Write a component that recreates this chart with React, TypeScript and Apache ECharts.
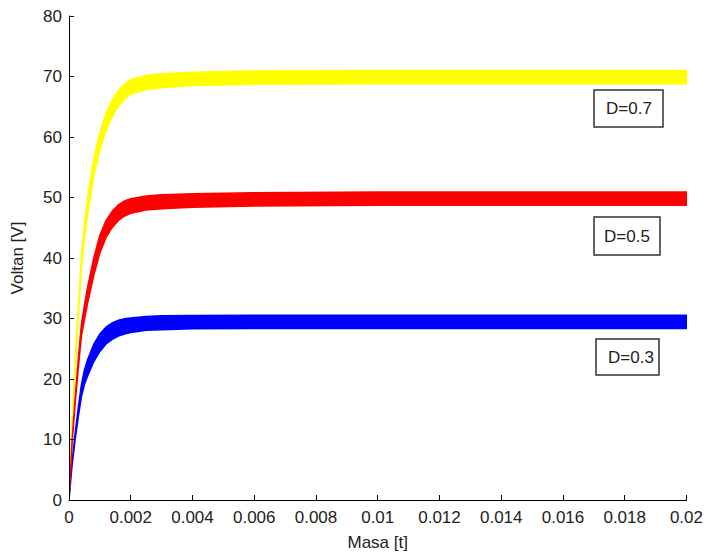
import React, { useEffect, useRef } from "react";
import * as echarts from "echarts";

// time samples [s]
const T = [0, 0.0001, 0.0002, 0.0003, 0.0004, 0.0005, 0.0006, 0.0008, 0.001, 0.0012, 0.0014, 0.0016, 0.0018, 0.002, 0.0025, 0.003, 0.004, 0.006, 0.01, 0.02];

// mean output voltage for each duty cycle [V]
const V07 = [0, 12.5, 23, 31, 39, 44.5, 48.5, 55, 59.3, 62.5, 64.8, 66.4, 67.5, 68.3, 69.0, 69.3, 69.6, 69.8, 69.9, 69.9];
const V05 = [0, 9.5, 16.5, 22.5, 28, 31, 33.8, 38.5, 42.3, 44.8, 46.4, 47.5, 48.2, 48.6, 49.1, 49.3, 49.5, 49.7, 49.8, 49.8];
const V03 = [0, 6, 10.5, 14.5, 18, 20.3, 21.8, 24.3, 26.0, 27.2, 27.9, 28.4, 28.7, 28.9, 29.2, 29.3, 29.4, 29.45, 29.45, 29.45];

// peak-to-peak ripple [V]
const RIPPLE = [0, 0.5, 1, 1.5, 2, 2.4, 2.7, 2.9, 2.9, 2.8, 2.7, 2.6, 2.5, 2.4, 2.3, 2.3, 2.2, 2.2, 2.2, 2.2];

const LABELS = ["D=0.7", "D=0.5", "D=0.3"];
const X_TICKS = ["0", "0.002", "0.004", "0.006", "0.008", "0.01", "0.012", "0.014", "0.016", "0.018", "0.02"];

const FONT = "Liberation Sans, Arial, sans-serif";
const TXT = "#222";

function bandSeries(values: number[], color: string) {
  const upper = values.map((v, i) => v + RIPPLE[i] / 2);
  const lower = values.map((v, i) => Math.max(0, v - RIPPLE[i] / 2));
  return {
    type: "custom",
    silent: true,
    clip: true,
    data: T.map((t, i) => [t, values[i]]),
    encode: { x: 0, y: 1 },
    renderItem: (params: any, api: any) => {
      if (params.dataIndex !== 0) return null;
      const pts: number[][] = [];
      for (let i = 0; i < T.length; i++) pts.push(api.coord([T[i], upper[i]]));
      for (let i = T.length - 1; i >= 0; i--) pts.push(api.coord([T[i], lower[i]]));
      return {
        type: "polygon",
        shape: { points: pts },
        style: { fill: color, stroke: color, lineWidth: 1.5 },
      };
    },
  };
}

function box(label: string, x: number, y: number, w: number, h: number, tx: number) {
  return {
    type: "group",
    x,
    y,
    children: [
      { type: "rect", shape: { x: 0, y: 0, width: w, height: h }, style: { fill: "#fff", stroke: "#333", lineWidth: 1.5 } },
      {
        type: "text",
        x: tx,
        y: h / 2,
        style: { text: label, fill: TXT, font: `17px ${FONT}`, textAlign: "center", textVerticalAlign: "middle" },
      },
    ],
  };
}

export default function App() {
  const ref = useRef<HTMLDivElement>(null);
  useEffect(() => {
    if (!ref.current) return;
    const chart = echarts.init(ref.current, null, { renderer: "svg" });
    chart.setOption({
      animation: false,
      backgroundColor: "#fff",
      grid: { left: 69, right: 19, top: 16, bottom: 54, containLabel: false },
      xAxis: {
        type: "value",
        min: 0,
        max: 0.02,
        interval: 0.002,
        name: "Masa [t]",
        nameLocation: "middle",
        nameGap: 34,
        nameTextStyle: { color: TXT, fontSize: 17, fontFamily: FONT },
        axisLine: { show: true, lineStyle: { color: "#000", width: 1 } },
        axisTick: { show: true, inside: true, length: 5, lineStyle: { color: "#000" } },
        splitLine: { show: false },
        axisLabel: {
          color: TXT,
          fontSize: 17,
          fontFamily: FONT,
          margin: 9,
          showMaxLabel: true,
          hideOverlap: false,
          formatter: (v: number) => X_TICKS[Math.round(v / 0.002)] ?? String(v),
        },
        z: 10,
      },
      yAxis: {
        type: "value",
        min: 0,
        max: 80,
        interval: 10,
        name: "Voltan [V]",
        nameLocation: "middle",
        nameGap: 43,
        nameTextStyle: { color: TXT, fontSize: 17, fontFamily: FONT },
        axisLine: { show: true, lineStyle: { color: "#000", width: 1 } },
        axisTick: { show: true, inside: true, length: 5, lineStyle: { color: "#000" } },
        splitLine: { show: false },
        axisLabel: { color: TXT, fontSize: 17, fontFamily: FONT, margin: 7 },
        z: 10,
      },
      series: [bandSeries(V07, "#ffff00"), bandSeries(V03, "#0000ff"), bandSeries(V05, "#ff0000")],
      graphic: [
        box(LABELS[0], 594, 90, 69, 37, 35),
        box(LABELS[1], 594, 217, 66, 38, 33),
        box(LABELS[2], 596, 339, 63, 36, 35),
      ],
    });
    return () => chart.dispose();
  }, []);
  return <div ref={ref} style={{ position: "fixed", left: 0, top: 0, width: 706, height: 556, background: "#fff" }} />;
}
